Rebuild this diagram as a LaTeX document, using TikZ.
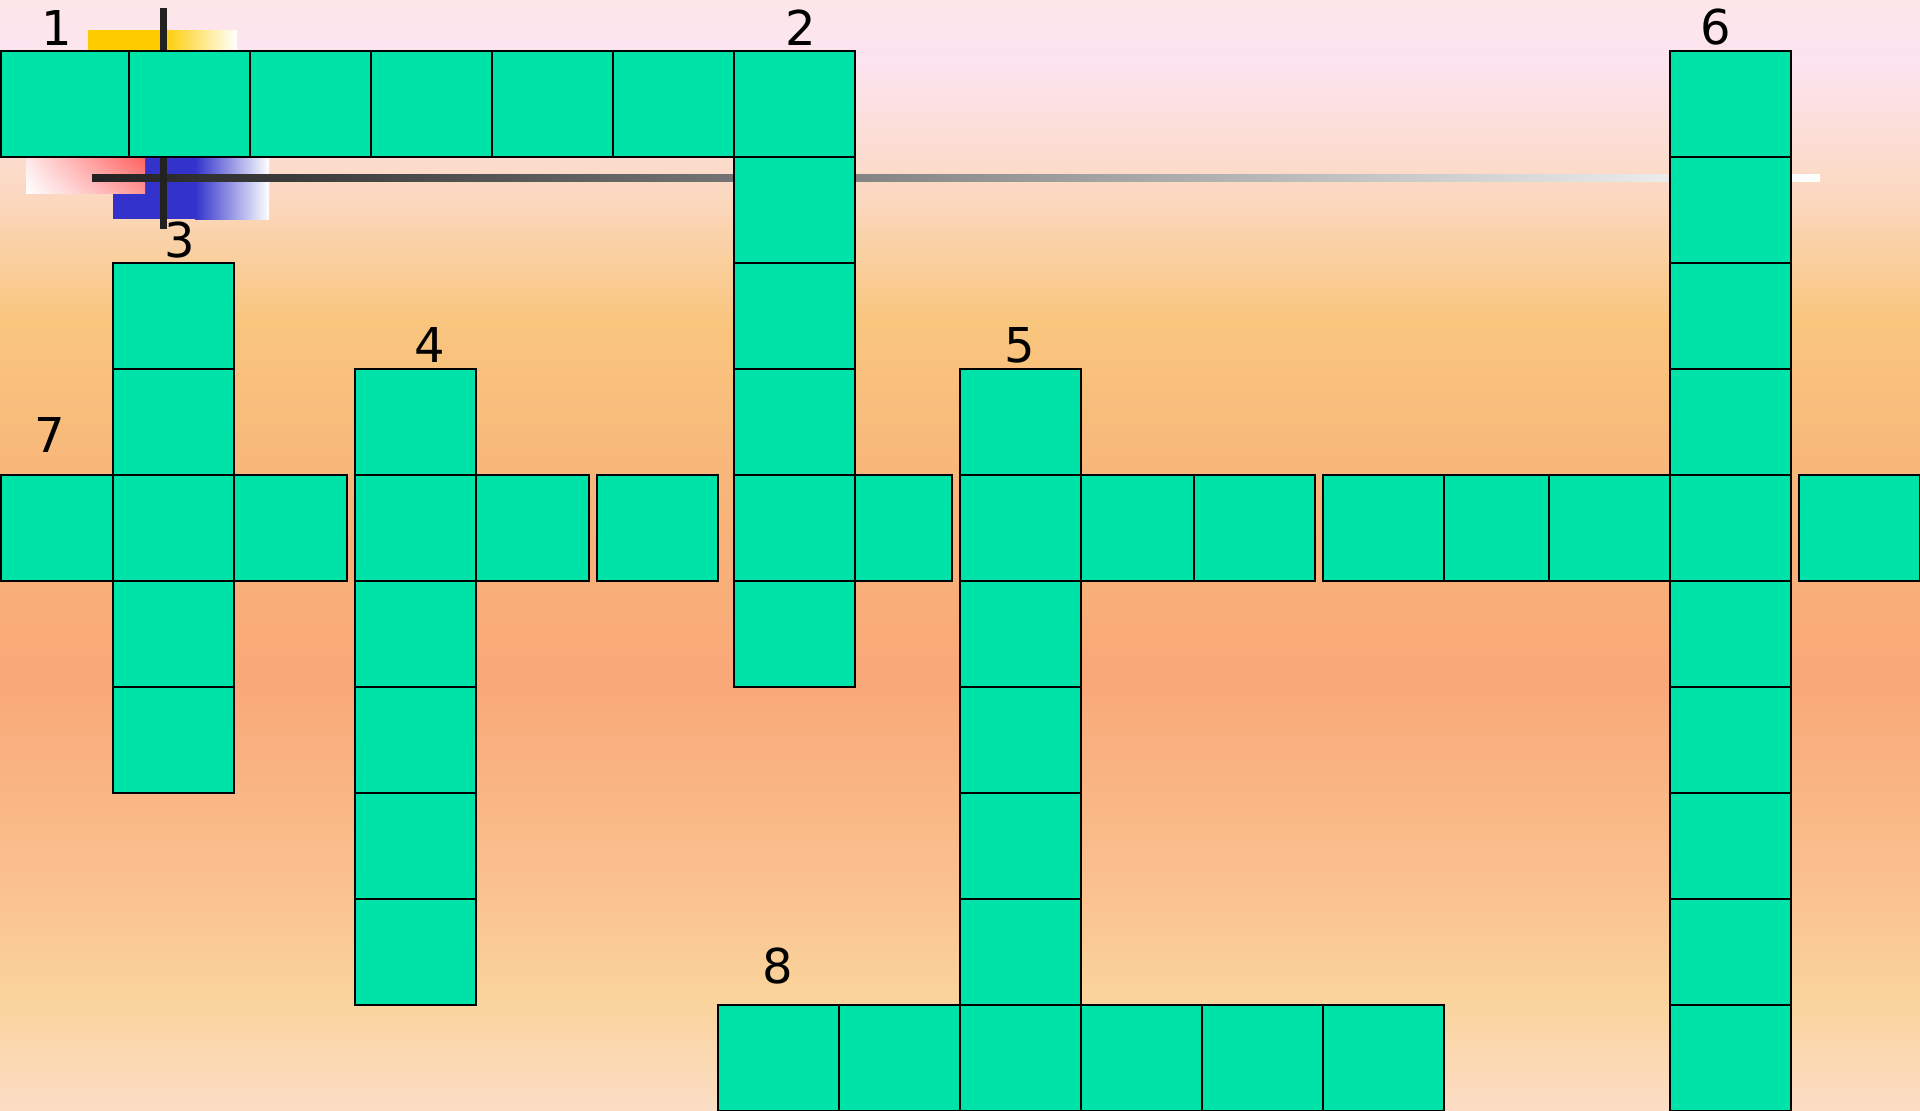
\documentclass[tikz,border=0pt]{standalone}
\usepackage{fontspec}
\setmainfont{DejaVu Sans}
\usetikzlibrary{positioning,shadings}

\definecolor{cellgreen}{RGB}{0,227,168}
\definecolor{goldblock}{HTML}{FFCC00}
\definecolor{blueblock}{HTML}{3333CC}
\definecolor{redblock}{HTML}{FF4040}
\definecolor{bardark}{HTML}{222222}
\definecolor{bgA}{HTML}{FCE6E8}
\definecolor{bgB}{HTML}{FCE4F0}
\definecolor{bgC}{HTML}{FCE0E0}
\definecolor{bgD}{HTML}{FBD8BE}
\definecolor{bgE}{HTML}{F9C67E}
\definecolor{bgF}{HTML}{F8B87A}
\definecolor{bgG}{HTML}{F9A878}
\definecolor{bgH}{HTML}{FAC08E}
\definecolor{bgI}{HTML}{FAD49C}
\definecolor{bgJ}{HTML}{FCDDC5}

\pgfdeclareverticalshading{sunset}{100bp}{color(0bp)=(bgJ); color(25bp)=(bgJ);
  color(29.95bp)=(bgI); color(35.36bp)=(bgH); color(44.37bp)=(bgG);
  color(54.28bp)=(bgF); color(60.59bp)=(bgE); color(65.99bp)=(bgD);
  color(70.05bp)=(bgC); color(72.3bp)=(bgB); color(75bp)=(bgA); color(100bp)=(bgA)}

\begin{document}
\begin{tikzpicture}[
  x=0.5pt, y=-0.5pt,
  cell/.style={rectangle,draw=black,line width=1pt,fill=cellgreen,minimum width=60.5pt,
    minimum height=53pt,inner sep=0pt,outer sep=0pt,anchor=north west},
  num/.style={inner sep=0pt,font=\fontsize{24}{28}\selectfont},
  node distance=0pt,
]
  \useasboundingbox (0,0) rectangle (1920,1110);
  \shade[shading=sunset] (0,0) rectangle (1920,1110);
  % blocks behind the grid
  \fill[goldblock] (88,30) rectangle (164,55);
  \shade[left color=goldblock,right color=white] (163,30) rectangle (237,55);
  \fill[blueblock] (113,150) rectangle (196,219);
  \shade[left color=blueblock,right color=white] (195,150) rectangle (269,219);
  \shade[lower left=white,upper left=redblock!15,lower right=redblock!55,upper right=redblock!90]
    (26,150) rectangle (145,193);
  \shade[left color=bardark,right color=white] (92,174) rectangle (1820,181);
  \fill[bardark] (160,8) rectangle (166.7,229);
  % across 1
  \node[cell,minimum width=64.05pt] (a1a) at (0.5,51) {};
  \node[cell,right=of a1a] (a1b) {};
  \node[cell,right=of a1b] (a1c) {};
  \node[cell,right=of a1c] (a1d) {};
  \node[cell,right=of a1d] (a1e) {};
  \node[cell,right=of a1e] (a1f) {};
  \node[cell,right=of a1f] (a1g) {};
  % down 2
  \node[cell,below=of a1g] (d2b) {};
  \node[cell,below=of d2b] (d2c) {};
  \node[cell,below=of d2c] (d2d) {};
  \node[cell,below=of d2d] (d2e) {};
  \node[cell,below=of d2e] (d2f) {};
  % down 3
  \node[cell] (d3a) at (112.7,263) {};
  \node[cell,below=of d3a] (d3b) {};
  \node[cell,below=of d3b] (d3c) {};
  \node[cell,below=of d3c] (d3d) {};
  \node[cell,below=of d3d] (d3e) {};
  % down 4
  \node[cell] (d4a) at (355,369) {};
  \node[cell,below=of d4a] (d4b) {};
  \node[cell,below=of d4b] (d4c) {};
  \node[cell,below=of d4c] (d4d) {};
  \node[cell,below=of d4d] (d4e) {};
  \node[cell,below=of d4e] (d4f) {};
  % down 5
  \node[cell] (d5a) at (960,369) {};
  \node[cell,below=of d5a] (d5b) {};
  \node[cell,below=of d5b] (d5c) {};
  \node[cell,below=of d5c] (d5d) {};
  \node[cell,below=of d5d] (d5e) {};
  \node[cell,below=of d5e] (d5f) {};
  \node[cell,below=of d5f] (d5g) {};
  % down 6
  \node[cell] (d6a) at (1670,51) {};
  \node[cell,below=of d6a] (d6b) {};
  \node[cell,below=of d6b] (d6c) {};
  \node[cell,below=of d6c] (d6d) {};
  \node[cell,below=of d6d] (d6e) {};
  \node[cell,below=of d6e] (d6f) {};
  \node[cell,below=of d6f] (d6g) {};
  \node[cell,below=of d6g] (d6h) {};
  \node[cell,below=of d6h] (d6i) {};
  \node[cell,below=of d6i] (d6j) {};
  % across 7
  \node[cell,minimum width=56pt] (a7a) at (0.5,475) {};
  \node[cell,right=of d3c,minimum width=56.75pt] (a7c) {};
  \node[cell,right=of d4b,minimum width=56.5pt] (a7e) {};
  \node[cell] (a7f) at (597,475) {};
  \node[cell,right=of d2e,minimum width=48.75pt] (a7h) {};
  \node[cell,right=of d5b,minimum width=56.5pt] (a7j) {};
  \node[cell,right=of a7j] (a7k) {};
  \node[cell,left=of d6e] (a7n) {};
  \node[cell,left=of a7n] (a7l) {};
  \node[cell] (a7m) at (1322.5,475) {};
  \node[cell] (a7p) at (1799,475) {};
  % across 8
  \node[cell] (a8a) at (717.6,1005) {};
  \node[cell,right=of a8a] (a8b) {};
  \node[cell,right=of d5g] (a8d) {};
  \node[cell,right=of a8d] (a8e) {};
  \node[cell,right=of a8e] (a8f) {};
  % clue numbers
  \node[num] (n1) at (57,27.5) {1};
  \node[num] (n2) at (801,27.5) {2};
  \node[num] (n3) at (180,240) {3};
  \node[num] (n4) at (430,345) {4};
  \node[num] (n5) at (1020,345) {5};
  \node[num] (n6) at (1715.5,27.5) {6};
  \node[num] (n7) at (49.5,435) {7};
  \node[num] (n8) at (777.6,966) {8};
\end{tikzpicture}
\end{document}
